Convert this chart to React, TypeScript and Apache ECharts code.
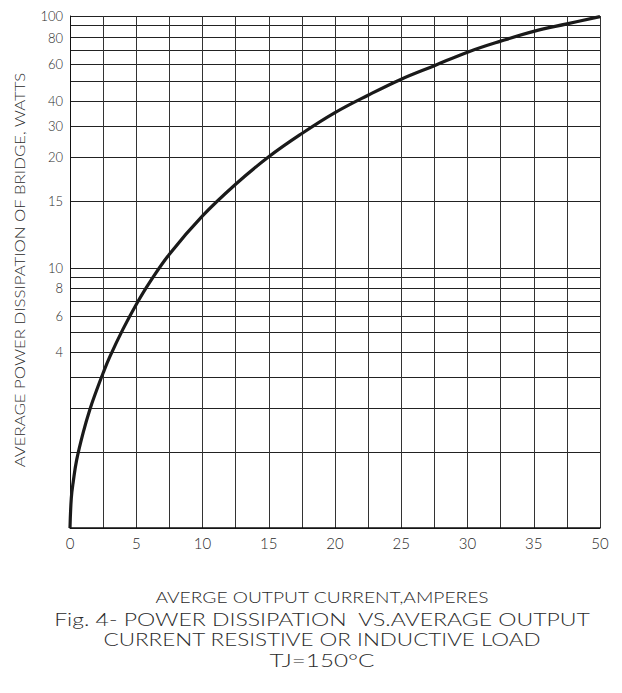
import React, { useEffect, useRef } from "react";
import * as echarts from "echarts";

// ---- Data ----
// Average output current (axis units; last grid position is labelled "50")
const current = [0, 0.1, 0.25, 0.5, 1, 1.5, 2, 2.5, 3, 4, 5, 6, 7.5, 10, 12.5, 15, 17.5, 20, 22.5, 25, 27.5, 30, 32.5, 35, 37.5, 40];
// Average power dissipation, watts
const powerWatts = [1, 1.2, 1.31, 1.45, 1.73, 1.99, 2.57, 3.16, 3.82, 5.2, 6.76, 8.5, 11.06, 13.9, 16.9, 20.0, 27.5, 35.3, 42.9, 51.1, 59.2, 68.5, 77.2, 85.0, 91.2, 99.3];

// X tick labels
const xTickValues = [0, 5, 10, 15, 20, 25, 30, 35, 40];
const xTickLabels = ["0", "5", "10", "15", "20", "25", "30", "35", "50"];

// The chart's irregular power scale: grid values (watts) and their place on the axis (0-100)
const yGridWatts = [1, 1.5, 2, 3, 4, 5, 6, 7, 8, 9, 10, 15, 20, 30, 40, 50, 60, 70, 80, 90, 100];
const yGridScale = [0, 14.73, 23.33, 29.51, 34.28, 38.19, 41.43, 44.36, 46.79, 49.05, 50.69, 63.85, 72.5, 78.56, 83.39, 87.3, 90.56, 93.36, 95.76, 98.24, 100];
const yLabelWatts = [4, 6, 8, 10, 15, 20, 30, 40, 60, 80, 100];

const yTitle = "AVERAGE POWER DISSIPATION OF BRIDGE, WATTS";
const captionLines = [
  "AVERGE OUTPUT CURRENT,AMPERES",
  "Fig. 4- POWER DISSIPATION  VS.AVERAGE OUTPUT",
  "CURRENT RESISTIVE OR INDUCTIVE LOAD",
  "TJ=150°C",
];

function wattsToScale(w: number): number {
  for (let i = 0; i < yGridWatts.length - 1; i++) {
    const a = yGridWatts[i];
    const b = yGridWatts[i + 1];
    if (w >= a && w <= b) {
      return yGridScale[i] + ((w - a) / (b - a)) * (yGridScale[i + 1] - yGridScale[i]);
    }
  }
  return w < yGridWatts[0] ? yGridScale[0] : yGridScale[yGridScale.length - 1];
}

function scaleToLabel(v: number): string {
  let best = "";
  let bestD = Infinity;
  yLabelWatts.forEach((w) => {
    const d = Math.abs(wattsToScale(w) - v);
    if (d < bestD) {
      bestD = d;
      best = String(w);
    }
  });
  return bestD < 0.5 ? best : "";
}

function xLabel(v: number): string {
  let idx = -1;
  xTickValues.forEach((t, i) => {
    if (Math.abs(t - v) < 0.01) idx = i;
  });
  return idx >= 0 ? xTickLabels[idx] : "";
}

const FONT = "Lato";
const TEXT_COLOR = "#2a2a2a";

function measure(text: string, size: number, weight: number): number {
  const ctx = document.createElement("canvas").getContext("2d");
  if (!ctx) return text.length * size * 0.6;
  ctx.font = `${weight} ${size}px ${FONT}`;
  return ctx.measureText(text).width;
}

export default function App() {
  const ref = useRef<HTMLDivElement>(null);

  useEffect(() => {
    if (!ref.current) return;
    const chart = echarts.init(ref.current, undefined, { renderer: "svg" });

    const captionLayout = [
      { y: 597.5, size: 16, width: 334 },
      { y: 619, size: 17, width: 537 },
      { y: 639.5, size: 17, width: 438 },
      { y: 660, size: 17, width: 105 },
    ];
    const centerX = 322;
    const weight = 300;

    const captionGraphics = captionLines.map((t, i) => {
      const L = captionLayout[i];
      const w = measure(t, L.size, weight);
      return {
        type: "text",
        x: centerX,
        y: L.y,
        scaleX: L.width / w,
        style: {
          text: t,
          fontFamily: FONT,
          fontWeight: weight,
          fontSize: L.size,
          fill: TEXT_COLOR,
          align: "center",
          verticalAlign: "middle",
        },
      };
    });

    const titleW = measure(yTitle, 14, weight);

    const option: any = {
      animation: false,
      backgroundColor: "#ffffff",
      grid: {
        left: 70,
        right: 22,
        top: 16,
        bottom: 165,
        containLabel: false,
        outerBoundsMode: "none",
      },
      xAxis: {
        type: "value",
        min: 0,
        max: 40,
        interval: 2.5,
        axisLine: { show: true, onZero: false, lineStyle: { color: "#111", width: 1.5 } },
        axisTick: { show: false },
        splitLine: { show: true, lineStyle: { color: "#333", width: 1 } },
        axisLabel: {
          customValues: xTickValues,
          formatter: (v: number) => xLabel(v),
          fontFamily: FONT,
          fontWeight: weight,
          fontSize: 15,
          color: TEXT_COLOR,
          margin: 7,
        },
      },
      yAxis: {
        type: "value",
        min: 0,
        max: 100,
        axisLine: { show: true, lineStyle: { color: "#111", width: 1 } },
        axisTick: { show: false, customValues: yGridWatts.map(wattsToScale) },
        splitLine: { show: true, lineStyle: { color: "#222", width: 1 } },
        axisLabel: {
          customValues: yLabelWatts.map(wattsToScale),
          formatter: (v: number) => scaleToLabel(v),
          fontFamily: FONT,
          fontWeight: weight,
          fontSize: 13,
          color: TEXT_COLOR,
          margin: 7,
        },
      },
      series: [
        {
          type: "line",
          data: current.map((c, i) => [c, wattsToScale(powerWatts[i])]),
          smooth: 0.4,
          symbol: "none",
          lineStyle: { color: "#1a1a1a", width: 3.2 },
          z: 5,
        },
      ],
      graphic: [
        {
          type: "text",
          x: 20,
          y: 270,
          rotation: Math.PI / 2,
          scaleX: 396 / titleW,
          style: {
            text: yTitle,
            fontFamily: FONT,
            fontWeight: weight,
            fontSize: 14,
            fill: TEXT_COLOR,
            align: "center",
            verticalAlign: "middle",
          },
        },
        ...captionGraphics,
      ],
    };

    chart.setOption(option);
    return () => chart.dispose();
  }, []);

  return (
    <div
      ref={ref}
      style={{ position: "fixed", left: 0, top: 0, width: 622, height: 693, background: "#fff" }}
    />
  );
}
